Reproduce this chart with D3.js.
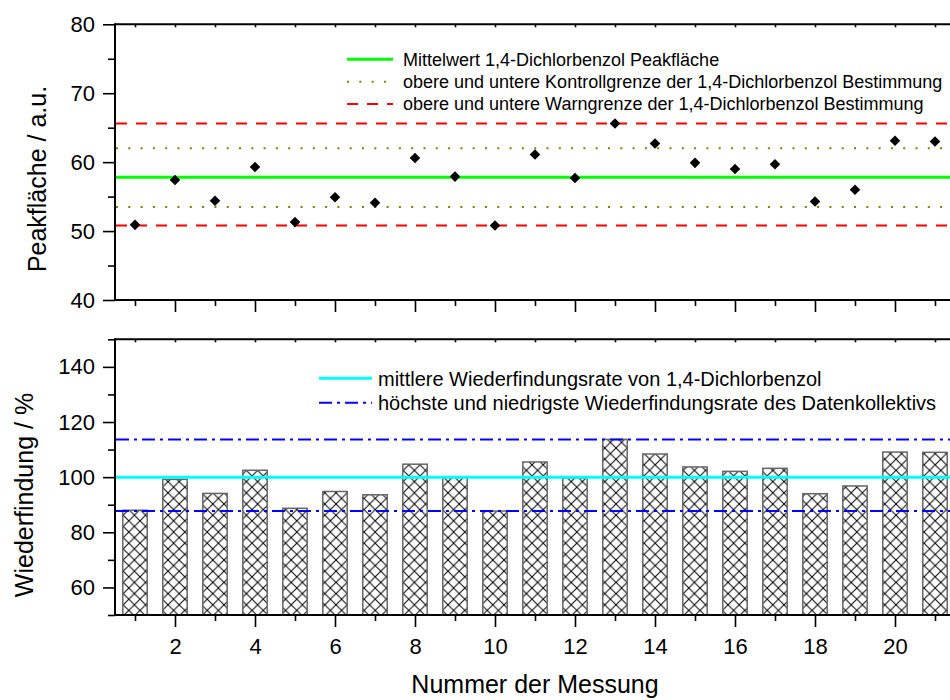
<!DOCTYPE html>
<html lang="de">
<meta charset="utf-8">
<title>1,4-Dichlorbenzol Kontrollkarte</title>
<script src="https://cdn.jsdelivr.net/npm/d3@7"></script>
<body>
<div id="chart"></div>
</body>
<style>
body { margin: 0; background: #fff; }
svg { font-family: "Liberation Sans", Arial, sans-serif; }
.frame { stroke: #000; stroke-width: 2; fill: none; }
.tick line { stroke: #000; stroke-width: 1.6; }
.tick text { font-size: 22px; fill: #000; }
.title { font-size: 25px; fill: #000; }
</style>
<script>
// Werte
const messung = [1,2,3,4,5,6,7,8,9,10,11,12,13,14,15,16,17,18,19,20,21];
const peakflaeche = [50.9,57.4,54.4,59.3,51.3,54.9,54.1,60.6,57.9,50.8,61.1,57.7,65.6,62.7,59.9,59.0,59.7,54.3,56.0,63.1,63.0];
const wiederfindung = [88.0,99.2,94.1,102.5,88.7,94.8,93.6,104.7,99.9,87.7,105.5,99.7,113.7,108.4,103.7,102.1,103.2,94.0,96.8,109.1,109.0];

const mittelwert = 57.8;
const kontrollgrenzen = [62.0, 53.5];
const warngrenzen = [65.6, 50.8];
const mittlereWdf = 100;
const wdfGrenzen = [113.7, 87.7];

const topMajor = [40,50,60,70,80], topMinor = [45,55,65,75];
const botMajor = [60,80,100,120,140], botMinor = [50,70,90,110,130,150];
const xMajor = [2,4,6,8,10,12,14,16,18,20], xMinor = [1,3,5,7,9,11,13,15,17,19,21];

const legendTop = [
  "Mittelwert 1,4-Dichlorbenzol Peakfläche",
  "obere und untere Kontrollgrenze der 1,4-Dichlorbenzol Bestimmung",
  "obere und untere Warngrenze der 1,4-Dichlorbenzol Bestimmung"
];
const legendBot = [
  "mittlere Wiederfindungsrate von 1,4-Dichlorbenzol",
  "höchste und niedrigste Wiederfindungsrate des Datenkollektivs"
];

let svg = d3.select("#chart").append("svg")
  .attr("width", 950)
  .attr("height", 700);

// hatch pattern for the bars
const hp = 11.2;
svg.append("defs").append("pattern")
  .attr("id", "hatch")
  .attr("patternUnits", "userSpaceOnUse")
  .attr("width", hp).attr("height", hp)
  .append("path")
  .attr("d", `M0,0L${hp},${hp}M${hp},0L0,${hp}M-1,${hp-1}L1,${hp+1}M${hp-1},-1L${hp+1},1`)
  .attr("stroke", "#000").attr("stroke-width", 1);

let x = d3.scaleLinear().domain([0.5, 21.5]).range([115, 955]);
let yTop = d3.scaleLinear().domain([40, 80]).range([300, 24.3]);
let yBot = d3.scaleLinear().domain([50, 150]).range([615, 339.3]);

function frame(y) {
  let [y0, y1] = y.range();
  svg.append("line").attr("class", "frame").attr("x1", x.range()[0]).attr("x2", 950).attr("y1", y0).attr("y2", y0);
  svg.append("line").attr("class", "frame").attr("x1", x.range()[0]).attr("x2", 950).attr("y1", y1).attr("y2", y1);
  svg.append("line").attr("class", "frame").attr("x1", x.range()[0]).attr("x2", x.range()[0]).attr("y1", y0 + 1).attr("y2", y1 - 1);
}

function axes(y, major, minor, labels) {
  let [y0, y1] = y.range();
  svg.append("g").attr("transform", "translate(" + x.range()[0] + ",0)")
    .call(d3.axisLeft(y).tickValues(major).tickSize(12).tickPadding(8).tickSizeOuter(0))
    .call(g => g.select(".domain").remove());
  svg.append("g").attr("transform", "translate(" + x.range()[0] + ",0)")
    .call(d3.axisLeft(y).tickValues(minor).tickSize(7).tickFormat("").tickSizeOuter(0))
    .call(g => g.select(".domain").remove());
  svg.append("g").attr("transform", "translate(0," + y0 + ")")
    .call(d3.axisBottom(x).tickValues(xMajor).tickSize(12).tickPadding(11).tickSizeOuter(0)
      .tickFormat(labels ? d3.format("d") : ""))
    .call(g => g.select(".domain").remove());
  svg.append("g").attr("transform", "translate(0," + y0 + ")")
    .call(d3.axisBottom(x).tickValues(xMinor).tickSize(6).tickFormat("").tickSizeOuter(0))
    .call(g => g.select(".domain").remove());
  svg.append("g").attr("transform", "translate(0," + y1 + ")")
    .call(d3.axisBottom(x).tickValues(messung).tickSize(3).tickFormat("").tickSizeOuter(0))
    .call(g => g.select(".domain").remove());
}

function hline(y, v, color, width, dash) {
  svg.append("line")
    .attr("x1", x.range()[0] + 1).attr("x2", x.range()[1])
    .attr("y1", y(v)).attr("y2", y(v))
    .attr("stroke", color).attr("stroke-width", width)
    .attr("stroke-dasharray", dash);
}

function legend(items, styles, x0, x1, tx, ys, fs) {
  items.forEach((t, i) => {
    let s = styles[i];
    svg.append("line").attr("x1", x0).attr("x2", x1).attr("y1", ys[i]).attr("y2", ys[i])
      .attr("stroke", s[0]).attr("stroke-width", s[1]).attr("stroke-dasharray", s[2]);
    svg.append("text").attr("x", tx).attr("y", ys[i]).attr("dy", "0.36em")
      .style("font-size", fs + "px").text(t);
  });
}

// ---------------- Oberes Diagramm ----------------
const sGreen = ["#00ff00", 3, null];
const sOlive = ["#808000", 2, "2,10.3"];
const sRed = ["#ff0000", 2, "11,9"];

kontrollgrenzen.forEach(v => hline(yTop, v, sOlive[0], sOlive[1], sOlive[2]));
warngrenzen.forEach(v => hline(yTop, v, sRed[0], sRed[1], sRed[2]));
hline(yTop, mittelwert, sGreen[0], sGreen[1], null);

svg.append("g").selectAll("path")
  .data(messung)
  .enter().append("path")
  .attr("d", d3.symbol().type(d3.symbolSquare).size(56))
  .attr("transform", (d, i) => "translate(" + x(d) + "," + yTop(peakflaeche[i]) + ") rotate(45)")
  .attr("fill", "#000");

frame(yTop);
axes(yTop, topMajor, topMinor, false);
legend(legendTop, [sGreen, sOlive, sRed], 347, 393, 403, [59.3, 81.7, 104], 18);

svg.append("text").attr("class", "title")
  .attr("transform", "rotate(-90)")
  .attr("x", -179).attr("y", 46)
  .attr("text-anchor", "middle")
  .text("Peakfläche / a.u.");

// ---------------- Unteres Diagramm ----------------
let barW = (x(2) - x(1)) * 0.61;
svg.append("g").selectAll("rect")
  .data(messung)
  .enter().append("rect")
  .attr("x", d => x(d) - barW / 2)
  .attr("width", barW)
  .attr("y", (d, i) => yBot(wiederfindung[i]))
  .attr("height", (d, i) => yBot(50) - yBot(wiederfindung[i]))
  .attr("fill", "url(#hatch)")
  .attr("stroke", "#666")
  .attr("stroke-width", 1.5);

const sCyan = ["#00ffff", 3, null];
const sBlue = ["#0000ff", 2, "13,5,3,5"];
wdfGrenzen.forEach(v => hline(yBot, v, sBlue[0], sBlue[1], sBlue[2]));
hline(yBot, mittlereWdf, sCyan[0], sCyan[1], null);

frame(yBot);
axes(yBot, botMajor, botMinor, true);
legend(legendBot, [sCyan, sBlue], 319, 372, 378, [378.3, 402.7], 20);

svg.append("text").attr("class", "title")
  .attr("transform", "rotate(-90)")
  .attr("x", -495).attr("y", 33)
  .attr("text-anchor", "middle")
  .text("Wiederfindung / %");

svg.append("text").attr("class", "title")
  .attr("x", 535).attr("y", 693)
  .attr("text-anchor", "middle")
  .text("Nummer der Messung");
</script>
</html>
